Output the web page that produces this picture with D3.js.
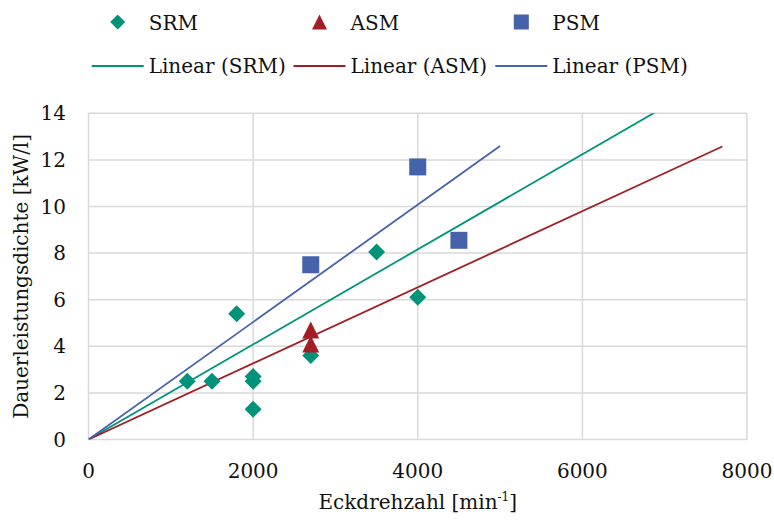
<!DOCTYPE html>
<html>
<head>
<meta charset="utf-8">
<script src="https://cdn.jsdelivr.net/npm/d3@7"></script>
<style>
	body { margin: 0; background: #fff; }
	svg { display: block; font-family: "DejaVu Serif", "Liberation Serif", serif; }
</style>
</head>
<body>
<svg id="chart" width="774" height="520"></svg>
<script>
// data
const seriesNames = ["SRM", "ASM", "PSM"];
const srmX = [1200, 1500, 1800, 2000, 2000, 2000, 2700, 3500, 4000];
const srmY = [2.5, 2.5, 5.4, 2.7, 2.5, 1.3, 3.6, 8.05, 6.1];
const asmX = [2700, 2700];
const asmY = [4.7, 4.1];
const psmX = [2700, 4000, 4500];
const psmY = [7.5, 11.7, 8.55];
// linear trend through origin: slope and last x, as drawn
const trendSlope = [0.00204, 0.001633, 0.00252];
const trendEnd = [7500, 7700, 5000];
const xTicks = [0, 2000, 4000, 6000, 8000];
const yTicks = [0, 2, 4, 6, 8, 10, 12, 14];

const colors = ["#00937a", "#a11f24", "#4562ab"];
const shapes = ["diamond", "triangle", "square"];

const width = 774,
	height = 520,
	fontSize = 20;

const svg = d3.select("#chart");

const x = d3.scaleLinear().domain([0, 8000]).range([88.5, 747]);
const y = d3.scaleLinear().domain([0, 14]).range([439.5, 113.3]);

// grid
const g_grid = svg.append("g").attr("class", "grid");
g_grid
	.selectAll(".vgrid")
	.data(xTicks)
	.join("line")
	.attr("x1", (d) => x(d))
	.attr("x2", (d) => x(d))
	.attr("y1", y(0))
	.attr("y2", y(14))
	.attr("stroke", "#d9d9d9")
	.attr("stroke-width", 1.5);
g_grid
	.selectAll(".hgrid")
	.data(yTicks)
	.join("line")
	.attr("x1", x(0))
	.attr("x2", x(8000))
	.attr("y1", (d) => y(d))
	.attr("y2", (d) => y(d))
	.attr("stroke", "#d9d9d9")
	.attr("stroke-width", 1.5);

// tick labels
svg.append("g")
	.selectAll("text")
	.data(xTicks)
	.join("text")
	.attr("x", (d) => x(d))
	.attr("y", 478)
	.attr("text-anchor", "middle")
	.attr("font-size", fontSize)
	.attr("fill", "#111")
	.text((d) => d);
svg.append("g")
	.selectAll("text")
	.data(yTicks)
	.join("text")
	.attr("x", 66)
	.attr("y", (d) => y(d) + 7)
	.attr("text-anchor", "end")
	.attr("font-size", fontSize)
	.attr("fill", "#111")
	.text((d) => d);

// axis titles
const xTitle = svg
	.append("text")
	.attr("x", (x(0) + x(8000)) / 2)
	.attr("y", 509)
	.attr("text-anchor", "middle")
	.attr("font-size", fontSize)
	.attr("fill", "#111");
xTitle.append("tspan").text("Eckdrehzahl [min");
xTitle.append("tspan").attr("font-size", 12).attr("dy", -8).text("-1");
xTitle.append("tspan").attr("dy", 8).text("]");

svg.append("text")
	.attr("transform", `translate(28, ${(y(0) + y(14)) / 2}) rotate(-90)`)
	.attr("text-anchor", "middle")
	.attr("font-size", fontSize)
	.attr("fill", "#111")
	.text("Dauerleistungsdichte [kW/l]");

// trend lines, clipped to plot
svg.append("clipPath")
	.attr("id", "plotClip")
	.append("rect")
	.attr("x", x(0))
	.attr("y", y(14))
	.attr("width", x(8000) - x(0))
	.attr("height", y(0) - y(14));

const g_trend = svg.append("g").attr("clip-path", "url(#plotClip)");
g_trend
	.selectAll("line")
	.data(seriesNames)
	.join("line")
	.attr("x1", x(0))
	.attr("y1", y(0))
	.attr("x2", (d, i) => x(trendEnd[i]))
	.attr("y2", (d, i) => y(trendSlope[i] * trendEnd[i]))
	.attr("stroke", (d, i) => colors[i])
	.attr("stroke-width", 1.8);

// markers
function markerPath(shape, s) {
	const h = s / 2;
	if (shape === "diamond") return `M0,${-h}L${h},0L0,${h}L${-h},0Z`;
	if (shape === "triangle") return `M0,${-h}L${h},${h}L${-h},${h}Z`;
	return `M${-h},${-h}H${h}V${h}H${-h}Z`;
}

const points = [
	srmX.map((v, i) => ({ x: v, y: srmY[i] })),
	asmX.map((v, i) => ({ x: v, y: asmY[i] })),
	psmX.map((v, i) => ({ x: v, y: psmY[i] })),
];

const g_points = svg.append("g");
points.forEach((arr, si) => {
	g_points
		.append("g")
		.selectAll("path")
		.data(arr)
		.join("path")
		.attr("transform", (d) => `translate(${x(d.x)}, ${y(d.y)})`)
		.attr("d", markerPath(shapes[si], 17))
		.attr("fill", colors[si]);
});

// legend
const legendCols = [91.7, 293.5, 495.3];
const g_legend = svg.append("g");
seriesNames.forEach((name, i) => {
	const cx = legendCols[i];
	g_legend
		.append("path")
		.attr("transform", `translate(${cx + 26}, 22)`)
		.attr("d", markerPath(shapes[i], 15))
		.attr("fill", colors[i]);
	g_legend
		.append("text")
		.attr("x", cx + 57)
		.attr("y", 30)
		.attr("font-size", fontSize)
		.attr("fill", "#111")
		.text(name);
	g_legend
		.append("line")
		.attr("x1", cx)
		.attr("x2", cx + 52)
		.attr("y1", 66)
		.attr("y2", 66)
		.attr("stroke", colors[i])
		.attr("stroke-width", 2);
	g_legend
		.append("text")
		.attr("x", cx + 57)
		.attr("y", 73)
		.attr("font-size", fontSize)
		.attr("fill", "#111")
		.text(`Linear (${name})`);
});
</script>
</body>
</html>
